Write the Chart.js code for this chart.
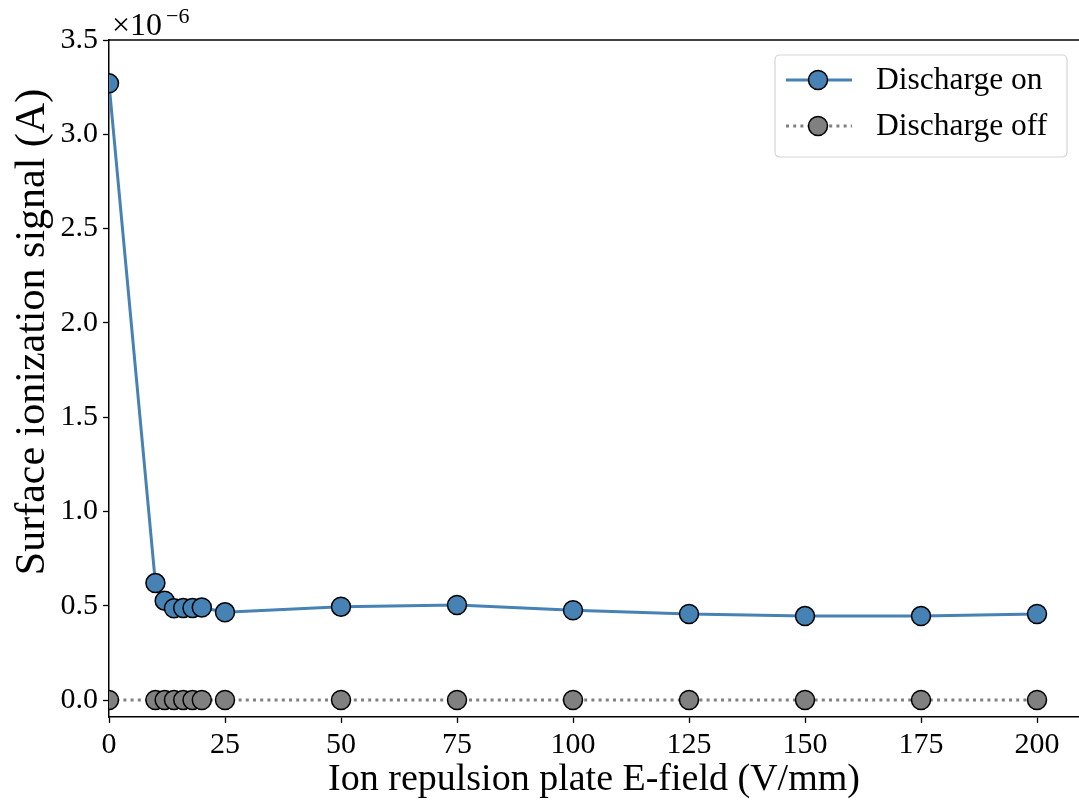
<!DOCTYPE html>
<html>
<head>
<meta charset="utf-8">
<script src="https://cdn.jsdelivr.net/npm/chart.js@4.4.1/dist/chart.umd.min.js"></script>
<style>
  html, body { margin: 0; padding: 0; background: #ffffff; }
  #wrap { width: 1079px; height: 806px; position: relative; }
</style>
</head>
<body>
<div id="wrap"><canvas id="c" width="1079" height="806"></canvas></div>
<script>
// ---- data (y in units of 1e-6 A) ----
const fieldValues = [0, 10, 12, 14, 16, 18, 20, 25, 50, 75, 100, 125, 150, 175, 200];
const signalOn    = [3.27, 0.62, 0.527, 0.487, 0.488, 0.488, 0.491, 0.465, 0.495, 0.504, 0.476, 0.456, 0.445, 0.445, 0.456];
const signalOff   = [0, 0, 0, 0, 0, 0, 0, 0, 0, 0, 0, 0, 0, 0, 0];
const seriesNames = ['Discharge on', 'Discharge off'];
const xTitle = 'Ion repulsion plate E-field (V/mm)';
const yTitle = 'Surface ionization signal (A)';
const yExponent = '\u00d710';
const yExponentPower = '\u22126';

const FONT = "'Liberation Serif', 'Times New Roman', serif";
const BLUE = '#4682b4';
const GREY = '#808080';

function toPoints(xs, ys) { return xs.map((x, i) => ({ x: x, y: ys[i] })); }

const extrasPlugin = {
  id: 'extras',
  afterDraw(chart) {
    const ctx = chart.ctx;
    const a = chart.chartArea;
    ctx.save();
    // top spine
    ctx.strokeStyle = '#000';
    ctx.lineWidth = 1.5;
    ctx.beginPath();
    ctx.moveTo(a.left - 0.75, a.top);
    ctx.lineTo(a.right, a.top);
    ctx.stroke();

    // y-axis title
    ctx.save();
    ctx.translate(33, 332);
    ctx.rotate(-Math.PI / 2);
    ctx.fillStyle = '#000';
    ctx.font = "42px " + FONT;
    ctx.textAlign = 'center';
    ctx.textBaseline = 'middle';
    ctx.fillText(yTitle, 0, 0);
    ctx.restore();

    // offset text
    ctx.fillStyle = '#000';
    ctx.textBaseline = 'alphabetic';
    ctx.textAlign = 'left';
    ctx.font = "32px " + FONT;
    ctx.fillText(yExponent, a.left + 3, 35);
    const w = ctx.measureText(yExponent).width;
    ctx.font = "22px " + FONT;
    ctx.fillText(yExponentPower, a.left + 3 + w + 4, 23);

    // legend box
    const bx = 775, by = 55, bw = 292, bh = 102, r = 5;
    ctx.beginPath();
    ctx.moveTo(bx + r, by);
    ctx.lineTo(bx + bw - r, by);
    ctx.quadraticCurveTo(bx + bw, by, bx + bw, by + r);
    ctx.lineTo(bx + bw, by + bh - r);
    ctx.quadraticCurveTo(bx + bw, by + bh, bx + bw - r, by + bh);
    ctx.lineTo(bx + r, by + bh);
    ctx.quadraticCurveTo(bx, by + bh, bx, by + bh - r);
    ctx.lineTo(bx, by + r);
    ctx.quadraticCurveTo(bx, by, bx + r, by);
    ctx.closePath();
    ctx.fillStyle = 'rgba(255,255,255,0.8)';
    ctx.fill();
    ctx.strokeStyle = '#d6d6d6';
    ctx.lineWidth = 1.2;
    ctx.stroke();

    const rows = [
      { y: 80, color: BLUE, dash: [], name: seriesNames[0] },
      { y: 126, color: GREY, dash: [3, 4.2], name: seriesNames[1] }
    ];
    rows.forEach(row => {
      ctx.strokeStyle = row.color;
      ctx.lineWidth = 3;
      ctx.setLineDash(row.dash);
      ctx.beginPath();
      ctx.moveTo(786, row.y);
      ctx.lineTo(852, row.y);
      ctx.stroke();
      ctx.setLineDash([]);
      ctx.beginPath();
      ctx.arc(818, row.y, 9.5, 0, Math.PI * 2);
      ctx.fillStyle = row.color;
      ctx.fill();
      ctx.strokeStyle = '#000';
      ctx.lineWidth = 1.5;
      ctx.stroke();
      ctx.fillStyle = '#000';
      ctx.font = "31.5px " + FONT;
      ctx.textBaseline = 'middle';
      ctx.fillText(row.name, 876, row.y + 1);
    });
    ctx.restore();
  }
};

new Chart(document.getElementById('c'), {
  type: 'line',
  data: {
    datasets: [
      {
        label: seriesNames[0],
        data: toPoints(fieldValues, signalOn),
        borderColor: BLUE,
        backgroundColor: BLUE,
        borderWidth: 3,
        pointRadius: 9.5,
        pointHoverRadius: 9.5,
        pointBackgroundColor: BLUE,
        pointBorderColor: '#000',
        pointBorderWidth: 1.5,
        tension: 0,
        clip: 0,
        order: 1
      },
      {
        label: seriesNames[1],
        data: toPoints(fieldValues, signalOff),
        borderColor: GREY,
        backgroundColor: GREY,
        borderWidth: 3,
        borderDash: [3, 4.2],
        pointRadius: 9.5,
        pointHoverRadius: 9.5,
        pointBackgroundColor: GREY,
        pointBorderColor: '#000',
        pointBorderWidth: 1.5,
        tension: 0,
        clip: 0,
        order: 0
      }
    ]
  },
  options: {
    responsive: false,
    animation: false,
    events: [],
    layout: { autoPadding: false, padding: { top: 40, right: 0, left: 0, bottom: 0 } },
    plugins: {
      legend: { display: false },
      tooltip: { enabled: false },
      title: { display: false }
    },
    scales: {
      x: {
        type: 'linear',
        min: 0,
        max: 209.05,
        afterFit(scale) { scale.height = 89; scale.paddingRight = 0; scale.paddingLeft = 0; },
        border: { display: true, color: '#000', width: 1.5 },
        grid: { display: true, drawOnChartArea: false, drawTicks: true, tickLength: 6, tickColor: '#000', tickWidth: 1.3 },
        ticks: {
          stepSize: 25,
          includeBounds: false,
          maxRotation: 0,
          autoSkip: false,
          padding: 4,
          color: '#000',
          font: { family: FONT, size: 30 },
          callback: v => String(v)
        },
        title: {
          display: true,
          text: xTitle,
          color: '#000',
          font: { family: FONT, size: 38 },
          padding: { top: 0, bottom: 3 }
        }
      },
      y: {
        type: 'linear',
        min: -0.09,
        max: 3.5,
        afterFit(scale) { scale.width = 109; scale.paddingTop = 0; scale.paddingBottom = 0; },
        border: { display: true, color: '#000', width: 1.5 },
        grid: { display: true, drawOnChartArea: false, drawTicks: true, tickLength: 6, tickColor: '#000', tickWidth: 1.3 },
        ticks: {
          stepSize: 0.5,
          includeBounds: false,
          padding: 5,
          color: '#000',
          font: { family: FONT, size: 30 },
          callback: v => Number(v).toFixed(1)
        },
        title: { display: false }
      }
    }
  },
  plugins: [extrasPlugin]
});
</script>
</body>
</html>
